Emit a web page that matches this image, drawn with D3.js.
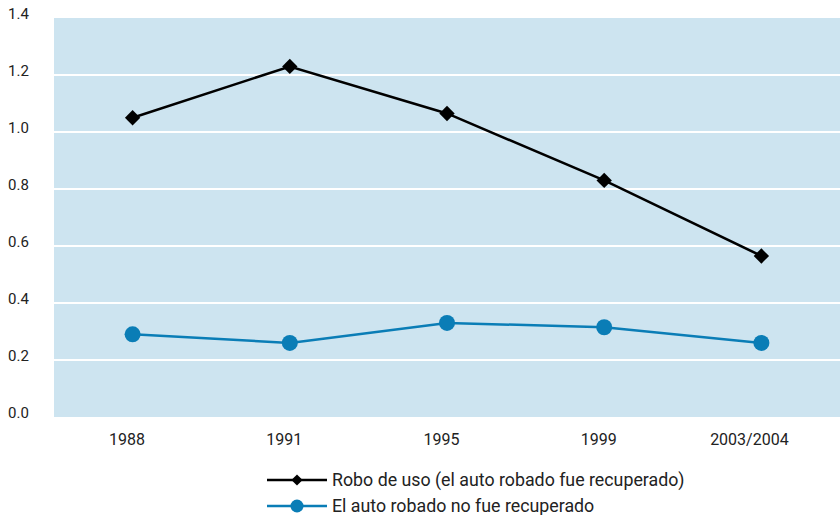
<!DOCTYPE html>
<html>
<head>
<meta charset="utf-8">
<script src="https://cdn.jsdelivr.net/npm/d3@7"></script>
<style>
  body { margin: 0; background: #fff; }
  svg { display: block; font-family: Roboto, "Liberation Sans", sans-serif; }
</style>
</head>
<body>
<div id="chart"></div>
<script>
var years = ["1988", "1991", "1995", "1999", "2003/2004"];
var roboUso = [1.05, 1.23, 1.065, 0.83, 0.565];
var noRecuperado = [0.29, 0.26, 0.33, 0.315, 0.26];
var yTicks = [0, 0.2, 0.4, 0.6, 0.8, 1.0, 1.2, 1.4];
var seriesNames = ["Robo de uso (el auto robado fue recuperado)", "El auto robado no fue recuperado"];

var w = 840, h = 515;
var margin = {top: 18, right: 0, bottom: 98, left: 54};

var svg = d3.select('#chart').append('svg')
    .attr('width', w)
    .attr('height', h);

var x = d3.scalePoint()
    .domain(years)
    .range([margin.left, w - margin.right])
    .padding(0.5);

var y = d3.scaleLinear()
    .domain([0, 1.4])
    .range([h - margin.bottom, margin.top]);

// plot background
svg.append('rect')
    .attr('x', margin.left)
    .attr('y', y(1.4))
    .attr('width', w - margin.right - margin.left)
    .attr('height', y(0) - y(1.4))
    .attr('fill', '#cde4f0');

// white grid lines
svg.append('g').selectAll('line')
    .data(yTicks.filter(function(d) { return d > 0 && d < 1.4; }))
    .enter().append('line')
    .attr('x1', margin.left)
    .attr('x2', w - margin.right)
    .attr('y1', function(d) { return y(d); })
    .attr('y2', function(d) { return y(d); })
    .attr('stroke', '#fff')
    .attr('stroke-width', 2);

// y labels
svg.append('g').selectAll('text')
    .data(yTicks)
    .enter().append('text')
    .attr('x', 8)
    .attr('y', function(d) { return y(d) + 1; })
    .attr('font-size', 15)
    .attr('fill', '#222')
    .text(function(d) { return d3.format('.1f')(d); });

// x labels (sit a little left of their points, the last one more so)
svg.append('g').selectAll('text')
    .data(years)
    .enter().append('text')
    .attr('x', function(d) { return x(d); })
    .attr('dx', function(d, i) { return i === years.length - 1 ? -12 : -5.5; })
    .attr('y', 445)
    .attr('text-anchor', 'middle')
    .attr('font-size', 16)
    .attr('fill', '#222')
    .text(function(d) { return d; });

var line = d3.line()
    .x(function(d, i) { return x(years[i]); })
    .y(function(d) { return y(d); });

var diamond = d3.symbol().type(d3.symbolDiamond2);

// black series
svg.append('path')
    .datum(roboUso)
    .attr('d', line)
    .attr('fill', 'none')
    .attr('stroke', '#000')
    .attr('stroke-width', 2.5);

svg.append('g').selectAll('path')
    .data(roboUso)
    .enter().append('path')
    .attr('d', diamond.size(150))
    .attr('transform', function(d, i) { return 'translate(' + x(years[i]) + ',' + y(d) + ')'; })
    .attr('fill', '#000');

// blue series
svg.append('path')
    .datum(noRecuperado)
    .attr('d', line)
    .attr('fill', 'none')
    .attr('stroke', '#0a7db6')
    .attr('stroke-width', 2.5);

svg.append('g').selectAll('circle')
    .data(noRecuperado)
    .enter().append('circle')
    .attr('cx', function(d, i) { return x(years[i]); })
    .attr('cy', function(d) { return y(d); })
    .attr('r', 8)
    .attr('fill', '#0a7db6');

// legend
var legend = svg.append('g').attr('transform', 'translate(267,480)');
var colors = ['#000', '#0a7db6'];
seriesNames.forEach(function(name, i) {
    var g = legend.append('g').attr('transform', 'translate(0,' + (i * 26) + ')');
    g.append('line')
        .attr('x1', 0).attr('x2', 60)
        .attr('stroke', colors[i])
        .attr('stroke-width', 2.5);
    if (i === 0) {
        g.append('path')
            .attr('d', diamond.size(80))
            .attr('transform', 'translate(30,0)')
            .attr('fill', colors[i]);
    } else {
        g.append('circle')
            .attr('cx', 30).attr('r', 6.5)
            .attr('fill', colors[i]);
    }
    g.append('text')
        .attr('x', 65)
        .attr('y', 6)
        .attr('font-size', 17.8)
        .attr('fill', '#222')
        .text(name);
});
</script>
</body>
</html>
